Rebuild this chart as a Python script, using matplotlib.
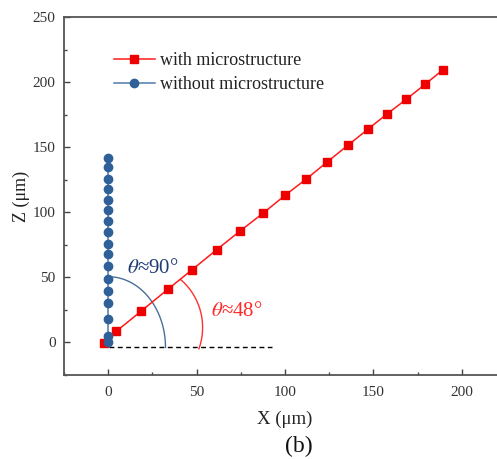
import numpy as np
import matplotlib

matplotlib.use("Agg")
import matplotlib.pyplot as plt
from matplotlib.ticker import MultipleLocator

plt.rcParams["font.family"] = ["Liberation Serif", "DejaVu Serif"]
plt.rcParams["mathtext.fontset"] = "stix"

# data
x_with = [-2.6, 4.5, 18.4, 33.7, 47.6, 61.4, 74.4, 87.8, 100.0, 111.9,
          123.9, 135.6, 146.9, 157.6, 168.7, 179.4, 189.4]
z_with = [-0.5, 8.5, 23.8, 40.8, 56.0, 71.3, 85.4, 99.5, 113.0, 125.4,
          138.7, 151.5, 163.8, 175.4, 186.9, 198.5, 209.5]
z_without = [0.0, 4.6, 18.2, 30.2, 39.5, 49.0, 58.5, 67.6, 76.0, 84.8,
             93.1, 101.5, 109.8, 117.7, 125.9, 134.4, 142.0]
x_without = [0.0] * len(z_without)

x_ticks = [0, 50, 100, 150, 200]
z_ticks = [0, 50, 100, 150, 200, 250]

base_z = -3.8
base_x_end = 92.5

fig = plt.figure(figsize=(4.97, 4.59), dpi=100)
ax = fig.add_axes([64 / 497, 84 / 459, 442 / 497, 358 / 459])

ax.plot(x_with, z_with, color="#ff1a1a", lw=1.1, marker="s", ms=5.2,
        mfc="#ee0000", mec="#ee0000", label="with microstructure", zorder=3)
ax.plot(x_without, z_without, color="#4f7bab", lw=1.1, marker="o", ms=6,
        mfc="#2f6098", mec="#2f6098", label="without microstructure", zorder=4)

# baseline
ax.plot([0.5, base_x_end], [base_z, base_z], color="black", lw=1.0,
        ls=(0, (3.5, 2.5)), zorder=2)

# angle arcs
t = np.linspace(0, np.pi / 2, 100)
ax.plot(32.4 * np.cos(t), base_z + 54.3 * np.sin(t), color="#4a6f96", lw=1.0)
t = np.deg2rad(np.linspace(-19.7, 49.7, 100))
ax.plot(17.8 + 35.6 * np.cos(t), 11.5 + 48.5 * np.sin(t), color="#ff3030", lw=1.0)

ax.text(25.1, 56.5, r"$\theta$≈90°", color="#1f3b73", fontsize=15,
        ha="center", va="center")
ax.text(72.6, 23.5, r"$\theta$≈48°", color="#ff2a2a", fontsize=15,
        ha="center", va="center")

ax.set_xlim(-25, 225)
ax.set_ylim(-25, 250)
ax.set_xticks(x_ticks)
ax.set_yticks(z_ticks)
ax.xaxis.set_minor_locator(MultipleLocator(25))
ax.yaxis.set_minor_locator(MultipleLocator(25))
ax.tick_params(which="both", direction="in", top=False, right=False,
               colors="#444444", labelcolor="#333333", labelsize=11)
ax.tick_params(which="major", length=4.5, width=1.0)
ax.tick_params(which="minor", length=2.2, width=1.0)
ax.tick_params(axis="x", pad=8)
ax.tick_params(axis="y", pad=6)
for s in ax.spines.values():
    s.set_color("#555555")
    s.set_linewidth(1.3)

ax.set_xlabel("X (μm)", fontsize=13.5, color="#222222")
ax.set_ylabel("Z (μm)", fontsize=13, color="#222222")
ax.xaxis.set_label_coords((285 - 64) / 442, -0.1)
ax.yaxis.set_label_coords(-0.077, 0.5)

ax.legend(loc="upper left", bbox_to_anchor=(0.113, 0.902), frameon=False,
          fontsize=13, handlelength=2.25, handletextpad=0.3,
          labelspacing=0.4, borderpad=0, borderaxespad=0,
          labelcolor="#222222")

fig.text(299 / 497, 1 - 446 / 459, "(b)", fontsize=17, ha="center",
         va="center", color="#111111")

fig.savefig("out.png", dpi=100)
